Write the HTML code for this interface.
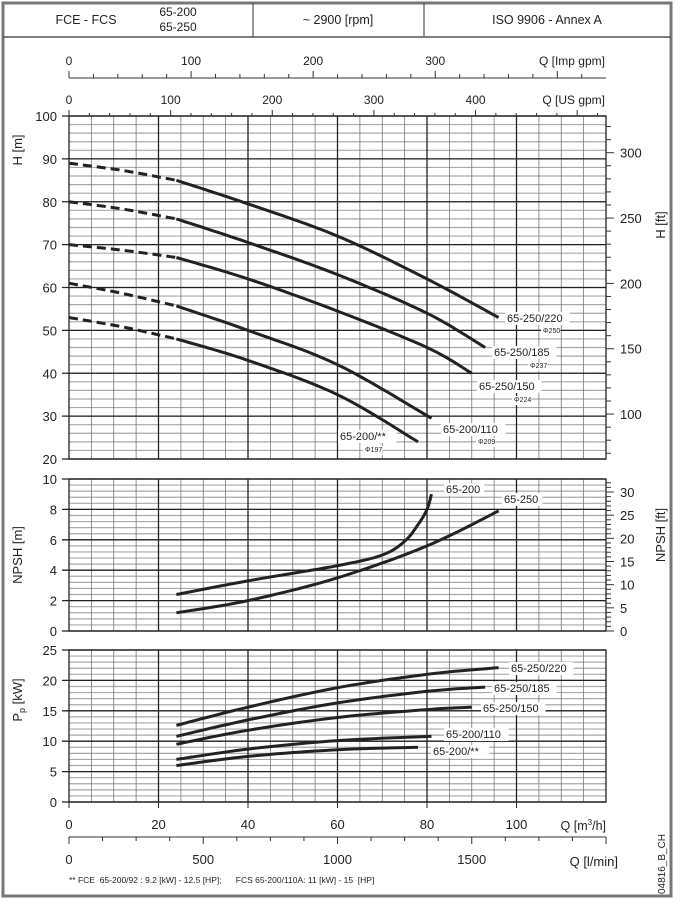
<!DOCTYPE html>
<html><head><meta charset="utf-8"><style>
body{margin:0;background:#fff;}
svg{display:block;font-family:"Liberation Sans",Arial,sans-serif;}
</style></head><body>
<svg id="s" width="677" height="905" xmlns="http://www.w3.org/2000/svg"></svg>
<script>
const s=document.getElementById('s');let h='';
const X=q=>69+q*(537/120);
function L(x1,y1,x2,y2,c,w,d){h+=`<line x1="${x1}" y1="${y1}" x2="${x2}" y2="${y2}" stroke="${c}" stroke-width="${w}"${d?` stroke-dasharray="${d}"`:''}/>`;}
function T(x,y,t,sz,a,extra){h+=`<text x="${x}" y="${y}" font-size="${sz}" text-anchor="${a||'middle'}" fill="#222" style="white-space:pre" ${extra||''}>${t}</text>`;}
h+=`<rect x="3" y="3" width="668" height="893" fill="none" stroke="#777" stroke-width="3"/>`;
L(3,37,671,37,'#555',1.5);L(253,3,253,37,'#555',1.2);L(424,3,424,37,'#555',1.2);
T(86,24,'FCE - FCS',12.5);T(178,16,'65-200',12);T(178,31,'65-250',12);
T(338,24,'~ 2900 [rpm]',12.5);T(547,24,'ISO 9906 - Annex A',12.5);
L(69,78,606,78,'#333',1);
for(let g=0;g<=440;g+=20){const x=X(g*0.2728);if(x>606)break;L(x,78,x,g%100==0?71:74,'#333',1);}
[0,100,200,300].forEach(g=>T(X(g*0.2728),65,g,12));T(605,65,'Q [Imp gpm]',12,'end');
[0,100,200,300,400].forEach(g=>T(X(g*0.22712),104,g,12));T(605,104,'Q [US gpm]',12,'end');
for(let g=0;g<=520;g+=20){const x=X(g*0.22712);if(x>606)break;L(x,116,x,g%100==0?110:113,'#333',1);}
function panel(y0,y1,vmin,vmax,maj,mnr){
 const Y=v=>y1-(v-vmin)*(y1-y0)/(vmax-vmin);
 for(let v=vmin;v<=vmax+1e-6;v+=mnr){L(69,Y(v),606,Y(v),'#aaa',1.2);}
 for(let q=5;q<120;q+=5){L(X(q),y0,X(q),y1,q%20==0?'#222':'#777',q%20==0?1.3:0.8);}
 for(let v=vmin;v<=vmax+1e-6;v+=maj){L(62,Y(v),606,Y(v),'#222',1.3);T(57,Y(v)+5,Math.round(v),13,'end');}
 h+=`<rect x="69" y="${y0}" width="537" height="${y1-y0}" fill="none" stroke="#222" stroke-width="1.3"/>`;
 return Y;}
const YH=panel(116,459,20,100,10,2);
const YN=panel(479,631,0,10,2,0.4);
const YP=panel(650,802,0,25,5,1);
for(let f=70;f<=320;f+=10){const y=YH(f*0.3048);if(y<116||y>459)continue;L(606,y,f%50==0?614:611,y,'#333',1);if(f%50==0)T(620,y+5,f,13,'start');}
for(let f=0;f<=32;f+=1){const y=YN(f*0.3048);if(y<479)continue;L(606,y,f%5==0?614:611,y,'#333',1);if(f%5==0)T(620,y+5,f,13,'start');}
[0,20,40,60,80,100].forEach(q=>{L(X(q),802,X(q),808,'#222',1);T(X(q),829,q,13);});
T(606,830,'Q [m<tspan dy="-5" font-size="8">3</tspan><tspan dy="5">/h]</tspan>',12.5,'end');
L(69,837,606,837,'#333',1);
for(let l=0;l<=2000;l+=125){const x=X(l*0.06);if(x>606.5)break;L(x,837,x,l%500==0?844:841,'#333',1);}
[0,500,1000,1500].forEach(l=>T(X(l*0.06),864,l,13));T(618,866,'Q [l/min]',13,'end');
T(69,883,'** FCE  65-200/92 : 9.2 [kW] - 12.5 [HP];      FCS 65-200/110A: 11 [kW] - 15  [HP]',8.5,'start');
T(0,0,'04816_B_CH',10,'middle','transform="translate(665,864) rotate(-90)"');
T(0,0,'H [m]',13,'middle','transform="translate(22,150) rotate(-90)"');
T(0,0,'NPSH [m]',13,'middle','transform="translate(22,555) rotate(-90)"');
T(0,0,'P<tspan font-size="9" dy="3">p</tspan><tspan dy="-3"> [kW]</tspan>',13,'middle','transform="translate(22,700) rotate(-90)"');
T(0,0,'H [ft]',13,'middle','transform="translate(665,225) rotate(-90)"');
T(0,0,'NPSH [ft]',13,'middle','transform="translate(665,535) rotate(-90)"');
function curve(pts,Y,dash){let d='';pts.forEach((p,i)=>{d+=(i?'L':'M')+X(p[0]).toFixed(1)+','+Y(p[1]).toFixed(1);});
 h+=`<path d="${d}" fill="none" stroke="#222" stroke-width="3" ${dash?'stroke-dasharray="9,5"':''} stroke-linecap="butt"/>`;}
function smooth(pts,n){
 const o=[];for(let i=0;i<pts.length-1;i++){const p0=pts[Math.max(0,i-1)],p1=pts[i],p2=pts[i+1],p3=pts[Math.min(pts.length-1,i+2)];
 for(let t=0;t<1;t+=1/n){const t2=t*t,t3=t2*t;const f=(a,b,c,d)=>0.5*((2*b)+(-a+c)*t+(2*a-5*b+4*c-d)*t2+(-a+3*b-3*c+d)*t3);o.push([f(p0[0],p1[0],p2[0],p3[0]),f(p0[1],p1[1],p2[1],p3[1])]);}}
 o.push(pts[pts.length-1]);return o;}
const Hc=[
 [[0,89],[12,87.3],[24,85]],[[24,85],[40,79.5],[60,72],[80,62],[96,53]],
 [[0,80],[12,78.3],[24,76]],[[24,76],[40,70.5],[60,63],[80,54],[93,46]],
 [[0,70],[12,68.7],[24,67]],[[24,67],[40,62],[60,54.5],[80,46],[90,40]],
 [[0,61],[12,58.6],[24,55.7]],[[24,55.7],[40,50],[60,42],[81,29.5]],
 [[0,53],[12,50.8],[24,48]],[[24,48],[40,43],[60,35],[78,24]]];
Hc.forEach((c,i)=>curve(smooth(c,12),YH,i%2==0));
function lab(x,y,t,sz){h+=`<rect x="${x-2}" y="${y-sz+1}" width="${t.length*sz*0.55+4}" height="${sz+2}" fill="#fff"/>`;T(x,y,t,sz,'start');}
lab(507,322,'65-250/220',11);lab(543,333,'Φ250',7);
lab(494,356,'65-250/185',11);lab(530,368,'Φ237',7);
lab(479,390,'65-250/150',11);lab(514,402,'Φ224',7);
lab(443,433,'65-200/110',11);lab(478,444,'Φ209',7);
lab(340,440,'65-200/**',11);lab(365,452,'Φ197',7);
curve(smooth([[24,2.4],[40,3.3],[60,4.3],[70,5.0],[75,5.9],[78,7.0],[80,8.0],[81,9]],12),YN);
curve(smooth([[24,1.2],[40,2.0],[60,3.5],[80,5.6],[96,7.9]],12),YN);
lab(446,493,'65-200',11);lab(504,503,'65-250',11);
curve(smooth([[24,12.6],[40,15.6],[60,18.8],[80,21],[96,22.1]],12),YP);
curve(smooth([[24,10.8],[40,13.5],[60,16.3],[80,18.2],[93,18.9]],12),YP);
curve(smooth([[24,9.5],[40,11.8],[60,13.9],[80,15.2],[90,15.6]],12),YP);
curve(smooth([[24,7],[40,8.7],[60,10.1],[81,10.8]],12),YP);
curve(smooth([[24,6],[40,7.5],[60,8.6],[78,9]],12),YP);
lab(511,672,'65-250/220',11);lab(494,692,'65-250/185',11);lab(483,712,'65-250/150',11);lab(446,738,'65-200/110',11);lab(433,755,'65-200/**',11);
s.innerHTML=h;
</script>
</body></html>
